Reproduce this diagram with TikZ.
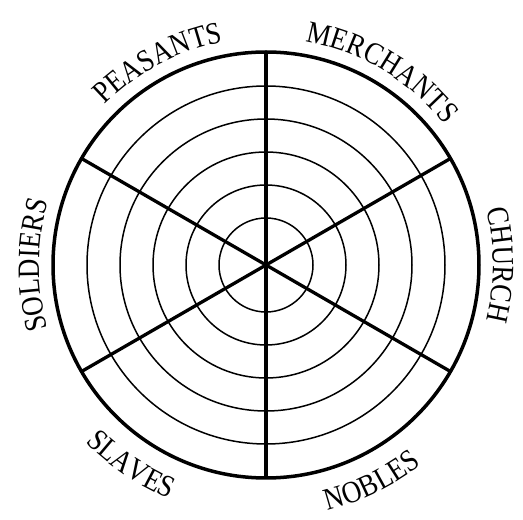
\documentclass[tikz,border=0pt]{standalone}
\usepackage{fontspec}
\setmainfont{Liberation Serif}
\newfontfamily\wheelfam[FakeStretch=0.87]{Liberation Serif}
\usetikzlibrary{decorations.text}
\newcommand\wheelfont{\wheelfam\fontsize{31}{31}\selectfont}

\begin{document}
\begin{tikzpicture}[
      x=1pt, y=1pt,
      ring/.style={draw, line width=1.5pt},
      rim/.style={draw, line width=3.5pt},
      spoke/.style={draw, line width=3.3pt},
      wheeltext/.style={decorate, decoration={text along path,
                        text align=center, text={|\wheelfont|#1}}}
    ]
    \useasboundingbox (0,0) rectangle (523,520);
    \coordinate (c) at (266,255);

    % Rings
    \foreach \r in {47,80,113,146,179}
      \draw[ring] (c) circle[radius=\r];
    \draw[rim] (c) circle[radius=213];

    % Spokes
    \foreach \a in {30,90,...,330}
      \draw[spoke] (c) -- ++(\a:213);

    % Labels, upper half (clockwise)
    \path[wheeltext=CHURCH] (c) ++(35:227) arc[start angle=35, end angle=-35, radius=227];
    \path[wheeltext=MERCHANTS] (c) ++(94:227) arc[start angle=94, end angle=24, radius=227];
    \path[wheeltext=PEASANTS] (c) ++(153:227) arc[start angle=153, end angle=83, radius=227];
    \path[wheeltext=SOLDIERS] (c) ++(215:227) arc[start angle=215, end angle=145, radius=227];

    % Labels, lower half (counterclockwise)
    \path[wheeltext=SLAVES] (c) ++(201:253) arc[start angle=201, end angle=271, radius=253];
    \path[wheeltext=NOBLES] (c) ++(261:253) arc[start angle=261, end angle=331, radius=253];
  \end{tikzpicture}
\end{document}
